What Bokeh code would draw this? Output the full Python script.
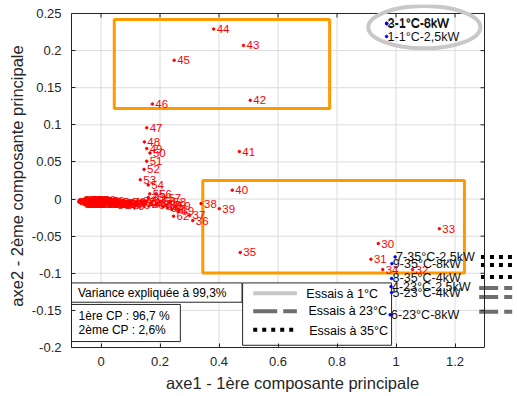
from bokeh.plotting import figure
from bokeh.models import FixedTicker, ColumnDataSource
from bokeh.core.properties import value
from bokeh.embed import file_html
from bokeh.resources import INLINE

# ---------------- data ----------------
red_labels = [str(i) for i in range(30, 58)] + [str(i) for i in range(58, 70)] \
    + [str(i) for i in range(70, 100)] + [str(i) for i in range(100, 140)]
red_x = [0.940, 0.915, 1.056, 1.147, 0.955, 0.472, 0.311, 0.300, 0.339, 0.401,
         0.445, 0.469, 0.506, 0.483, 0.382, 0.248, 0.174, 0.155, 0.147, 0.155,
         0.166, 0.155, 0.146, 0.133, 0.160, 0.165, 0.187, 0.218,
         # 58-69
         0.235, 0.250, 0.220, 0.240, 0.246, 0.210, 0.225, 0.190, 0.200, 0.185, 0.170, 0.262,
         # 70-99
         0.160, 0.150, 0.142, 0.135, 0.128, 0.120, 0.113, 0.106, 0.100, 0.094,
         0.088, 0.082, 0.076, 0.070, 0.065, 0.060, 0.055, 0.050, 0.046, 0.042,
         0.038, 0.034, 0.030, 0.027, 0.024, 0.021, 0.018, 0.015, 0.012, 0.009,
         # 100-139
         -0.010, -0.012, -0.015, -0.017, -0.020, -0.022, -0.025, -0.027, -0.030, -0.032,
         -0.034, -0.036, -0.038, -0.040, -0.042, -0.044, -0.046, -0.048, -0.050, -0.052,
         -0.054, -0.056, -0.058, -0.059, -0.060, -0.061, -0.062, -0.063, -0.064, -0.065,
         -0.066, -0.067, -0.068, -0.069, -0.070, -0.071, -0.072, -0.073, -0.074, -0.075]
red_y = [-0.060, -0.081, -0.095, -0.040, -0.095, -0.072, -0.029, -0.022, -0.006, -0.013,
         0.012, 0.064, 0.133, 0.207, 0.229, 0.187, 0.128, 0.096, 0.077, 0.068,
         0.062, 0.051, 0.040, 0.026, 0.019, 0.007, 0.007, 0.002,
         # 58-69
         -0.004, -0.010, -0.008, -0.014, -0.023, -0.010, -0.012, -0.006, -0.003, -0.008, -0.005, -0.016,
         # 70-99
         0.002, -0.004, -0.006, -0.003, -0.007, -0.005, -0.008, -0.006, -0.004, -0.009,
         -0.007, -0.005, -0.008, -0.006, -0.004, -0.007, -0.005, -0.006, -0.008, -0.004,
         -0.006, -0.005, -0.007, -0.003, -0.006, -0.005, -0.004, -0.007, -0.005, -0.003,
         # 100-139
         -0.004, -0.006, -0.002, -0.005, -0.003, -0.006, -0.001, -0.004, -0.005, -0.002,
         -0.006, -0.003, -0.004, -0.001, -0.005, -0.003, -0.006, -0.002, -0.004, -0.005,
         -0.001, -0.003, -0.006, -0.002, -0.004, -0.005, -0.001, -0.003, -0.002, -0.004,
         -0.006, -0.001, -0.003, -0.005, -0.002, -0.004, -0.001, -0.003, -0.002, -0.004]

blue_labels = ["1-1°C-2,5kW", "2-1°C-8kW", "3-1°C-6kW", "7-35°C-2,5kW", "9-35°C-8kW",
               "8-35°C-4kW", "4-23°C-2,5kW", "5-23°C-4kW", "6-23°C-8kW"]
blue_x = [0.968, 0.968, 0.969, 0.997, 0.986, 0.985, 0.983, 0.985, 0.980]
blue_y = [0.219, 0.237, 0.236, -0.078, -0.087, -0.107, -0.118, -0.126, -0.156]

x_ticks = [0, 0.2, 0.4, 0.6, 0.8, 1, 1.2]
x_tick_labels = ["0", "0.2", "0.4", "0.6", "0.8", "1", "1.2"]
y_ticks = [-0.2, -0.15, -0.1, -0.05, 0, 0.05, 0.1, 0.15, 0.2, 0.25]
y_tick_labels = ["-0.2", "-0.15", "-0.1", "-0.05", "0", "0.05", "0.1", "0.15", "0.2", "0.25"]

# condition lines drawn beyond the axes box (35°C dotted, 23°C dashed)
cond35_y = [-0.078, -0.089, -0.105]
cond23_y = [-0.120, -0.132, -0.152]

legend_labels = ["Essais à 1°C", "Essais à 23°C", "Essais à 35°C"]
info_text = ["Variance expliquée à 99,3%", "1ère CP : 96,7 %", "2ème CP : 2,6%"]

# ---------------- style ----------------
FONT = "Liberation Sans"
AX = "#262626"
GRID = "#dcdcdc"
X0, X1, Y0, Y1 = -0.1, 1.3, -0.2, 0.25       # axes box
PX_X, PX_Y = 295.0, 742.4                    # pixels per data unit
EXTRA_R, EXTRA_T = 29, 9                     # drawable margin beyond the box (px)
XE = X1 + EXTRA_R / PX_X
YE = Y1 + EXTRA_T / PX_Y
FW = round((XE - X0) * PX_X)
FH = round((YE - Y0) * PX_Y)

p = figure(frame_width=FW, frame_height=FH, x_range=(X0, XE), y_range=(Y0, YE),
           output_backend="svg", toolbar_location=None,
           min_border_left=71, min_border_right=0, min_border_top=4, min_border_bottom=45,
           background_fill_color="white", border_fill_color="white")
p.outline_line_color = None
p.grid.visible = False

xt = FixedTicker(ticks=x_ticks)
yt = FixedTicker(ticks=y_ticks)
p.xaxis.ticker = xt
p.yaxis.ticker = yt
p.xaxis.bounds = (X0, X1)
p.yaxis.bounds = (Y0, Y1)
p.xaxis.major_label_overrides = dict(zip(x_ticks, x_tick_labels))
p.yaxis.major_label_overrides = dict(zip(y_ticks, y_tick_labels))

for ax in (p.xaxis[0], p.yaxis[0]):
    ax.major_tick_in = 4
    ax.major_tick_out = 0
    ax.minor_tick_in = 0
    ax.minor_tick_out = 0
    ax.axis_line_color = AX
    ax.major_tick_line_color = AX
    ax.major_label_text_font = FONT
    ax.major_label_text_font_size = "13px"
    ax.major_label_text_color = AX
    ax.axis_label_text_font = FONT
    ax.axis_label_text_font_size = "16.5px"
    ax.axis_label_text_font_style = "normal"
    ax.axis_label_text_color = AX
p.xaxis.axis_label = "axe1 - 1ère composante principale"
p.yaxis.axis_label = "axe2 - 2ème composante principale"
p.xaxis.major_label_standoff = 9
p.xaxis.axis_label_standoff = 5
p.yaxis.major_label_standoff = 10
p.yaxis.axis_label_standoff = 3

# grid limited to the axes box
p.segment(x0=x_ticks, x1=x_ticks, y0=[Y0] * len(x_ticks), y1=[Y1] * len(x_ticks),
          line_color=GRID, line_width=1)
p.segment(x0=[X0] * len(y_ticks), x1=[X1] * len(y_ticks), y0=y_ticks, y1=y_ticks,
          line_color=GRID, line_width=1)

# orange zones
p.quad(left=[0.045, 0.345], right=[0.775, 1.232], bottom=[0.122, -0.0995], top=[0.242, 0.025],
       fill_color=None, line_color="#ff9900", line_width=3)

# red points
rsrc = ColumnDataSource(dict(x=red_x, y=red_y, t=red_labels))
p.scatter("x", "y", source=rsrc, size=2.5, color="red")
p.text("x", "y", text="t", source=rsrc, x_offset=3, text_baseline="middle",
       text_color="red", text_font_size="11.5px", text_font=value(FONT))

# info boxes and legend box
p.quad(left=[-0.1, -0.1, 0.480], right=[0.478, 0.269, 0.985],
       bottom=[-0.139, -0.192, -0.197], top=[-0.113, -0.142, -0.113],
       fill_color="white", line_color=AX, line_width=1)
p.text(x=[-0.078, -0.076, -0.076], y=[-0.1262, -0.158, -0.177], text=info_text,
       text_baseline="middle", text_color="black", text_font_size="12px",
       text_font=value(FONT))

p.segment(x0=[0.516], x1=[0.664], y0=[-0.127], y1=[-0.127], line_color="#c8c8c8", line_width=4)
p.segment(x0=[0.516], x1=[0.664], y0=[-0.151], y1=[-0.151], line_color="#6e6e6e", line_width=4,
          line_dash="24 6")
p.segment(x0=[0.516], x1=[0.664], y0=[-0.176], y1=[-0.176], line_color="black", line_width=4,
          line_dash="4 5")
p.text(x=[0.696, 0.703, 0.706], y=[-0.1285, -0.151, -0.178], text=legend_labels,
       text_baseline="middle", text_color="black", text_font_size="12.5px",
       text_font=value(FONT))

# condition lines running out past the right edge of the box
p.segment(x0=[1.288] * 3, x1=[XE + 0.05] * 3, y0=cond35_y, y1=cond35_y,
          line_color="black", line_width=4, line_dash="4 5")
p.segment(x0=[1.282] * 3, x1=[XE + 0.05] * 3, y0=cond23_y, y1=cond23_y,
          line_color="#6e6e6e", line_width=4, line_dash="19 6 8 6")

# box top / right edges with inward ticks
p.segment(x0=[X0, X1], x1=[X1, X1], y0=[Y1, Y0], y1=[Y1, Y1], line_color=AX, line_width=1)
tx = 4 / PX_X
ty = 4 / PX_Y
p.segment(x0=x_ticks, x1=x_ticks, y0=[Y1] * len(x_ticks), y1=[Y1 - ty] * len(x_ticks),
          line_color=AX, line_width=1)
p.segment(x0=[X1] * len(y_ticks), x1=[X1 - tx] * len(y_ticks), y0=y_ticks, y1=y_ticks,
          line_color=AX, line_width=1)

# blue points
bsrc = ColumnDataSource(dict(x=blue_x, y=blue_y, t=blue_labels))
p.scatter("x", "y", source=bsrc, size=2.5, color="blue")
p.text("x", "y", text="t", source=bsrc, x_offset=1, text_baseline="middle",
       text_color="#111111", text_font_size="12.5px", text_font=value(FONT))

# ellipse around the 1°C labels
p.ellipse(x=[1.096], y=[0.2315], width=[0.380], height=[0.057],
          fill_color=None, line_color="#c8c8c8", line_width=4)

open("out.html", "w").write(file_html(p, INLINE))
